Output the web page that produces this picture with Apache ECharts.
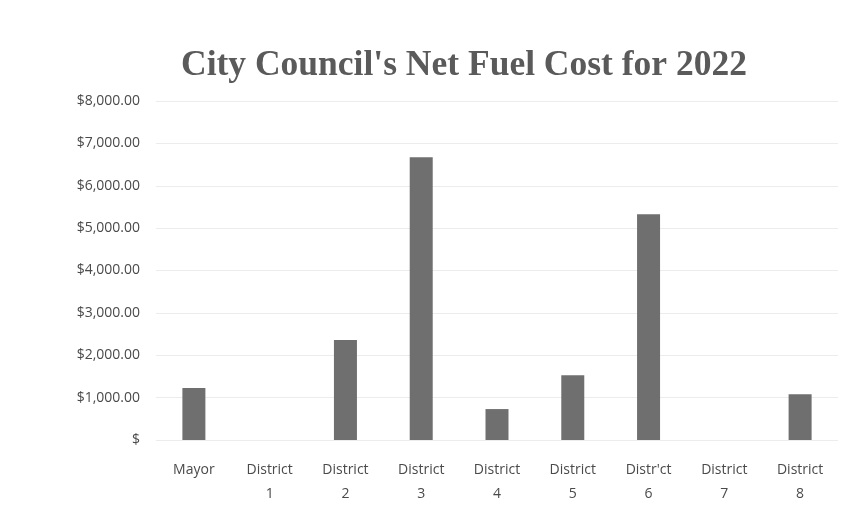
<!DOCTYPE html>
<html>
<head>
<meta charset="utf-8">
<script src="https://cdn.jsdelivr.net/npm/echarts@6/dist/echarts.min.js"></script>
<style>html,body{margin:0;padding:0;background:#fff}#c{width:854px;height:529px}</style>
</head>
<body>
<div id="c"></div>
<script>
const categories = ['Mayor', 'District\n1', 'District\n2', 'District\n3', 'District\n4', 'District\n5', 'Distr\'ct\n6', 'District\n7', 'District\n8'];
const fuelCost = [1230, 0, 2360, 6670, 730, 1530, 5330, 0, 1080];
const yTicks = [0, 1000, 2000, 3000, 4000, 5000, 6000, 7000, 8000];

const chart = echarts.init(document.getElementById('c'));
chart.setOption({
  animation: false,
  title: {
    text: "City Council's Net Fuel Cost for 2022",
    left: 176,
    top: 43,
    textStyle: { fontFamily: 'Liberation Serif', fontWeight: 'bold', fontSize: 35.5, color: '#5a5a5a' }
  },
  grid: { left: 156, right: 16, top: 101, bottom: 89 },
  xAxis: {
    type: 'category',
    data: categories,
    axisLine: { show: false },
    axisTick: { show: false },
    axisLabel: { color: '#4a4a4a', fontFamily: 'Open Sans', fontSize: 14, lineHeight: 24, margin: 18, interval: 0 }
  },
  yAxis: {
    type: 'value',
    min: 0, max: 8000, interval: 1000,
    axisLine: { show: false },
    axisTick: { show: false },
    splitLine: { lineStyle: { color: '#ececec', width: 1 } },
    axisLabel: {
      color: '#4a4a4a', fontFamily: 'Open Sans', fontSize: 14, margin: 16,
      formatter: v => yTicks.includes(v) ? (v === 0 ? '$' : '$' + v.toLocaleString('en-US', { minimumFractionDigits: 2 })) : ''
    }
  },
  series: [{
    type: 'bar',
    data: fuelCost,
    barWidth: 23,
    itemStyle: { color: '#6f6f6f' }
  }]
});
</script>
</body>
</html>
